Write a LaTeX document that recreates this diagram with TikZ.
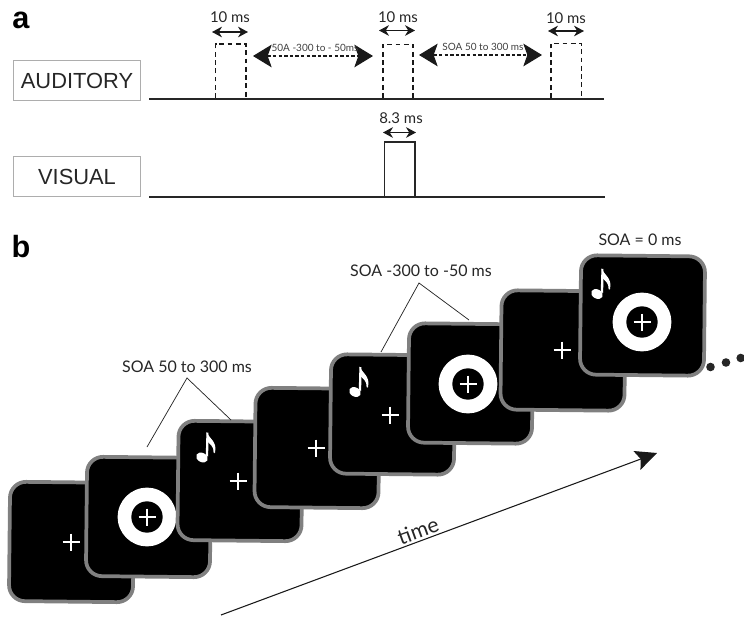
\documentclass[tikz,border=0pt]{standalone}
\usepackage{fontspec}
\setmainfont{Lato}
\newfontfamily\arialf{Liberation Sans}
\usetikzlibrary{arrows.meta}
\definecolor{cardedge}{gray}{0.5}
\definecolor{boxedge}{gray}{0.68}
\definecolor{soft}{gray}{0.25}
\tikzset{
  x=0.75pt,y=-0.75pt,
  panel/.style={font=\arialf\bfseries\fontsize{23}{23}\selectfont,inner sep=0pt,text=black},
  chan/.style={draw=boxedge,line width=0.75pt,minimum width=95.25pt,minimum height=30pt,inner sep=0pt,font=\arialf\fontsize{16.4}{16.4}\selectfont,text=black!85},
  dur/.style={font=\fontsize{11.2}{13}\selectfont,inner sep=0pt,text=black!85},
  soatop/.style={font=\fontsize{12}{14}\selectfont,inner sep=0pt,text=black!85},
  soasmall/.style={font=\fontsize{7.5}{9}\selectfont,inner sep=0pt,text=soft},
  baseline/.style={line width=2pt,draw=black!85},
  pulse/.style={line width=1.1pt,dash pattern=on 3.6pt off 2.6pt,draw=black!90},
  pulsesolid/.style={line width=1.1pt,draw=black!85},
  durarrow/.style={line width=0.9pt,draw=black!90,{Stealth[length=7.5pt,width=8pt]}-{Stealth[length=7.5pt,width=8pt]}},
  soaarrow/.style={line width=0.8pt,dash pattern=on 2.6pt off 1.6pt,draw=black!90,{Stealth[length=14pt,width=17pt,inset=3pt]}-{Stealth[length=14pt,width=17pt,inset=3pt]}},
  card/.style={draw=cardedge,fill=black,line width=2.8pt,rounded corners=12pt,minimum width=93pt,minimum height=89.5pt,inner sep=0pt,rotate=-0.6},
  fix/.style={draw=white,line width=1pt},
  ring/.style={fill=white,circle,minimum size=44pt,inner sep=0pt},
  hole/.style={fill=black,circle,minimum size=23.5pt,inner sep=0pt},
  lead/.style={line width=0.55pt,draw=black!85},
  fixcross/.pic={\draw[fix] (-8.5,0) -- (8.5,0) (0,-8.5) -- (0,8.5);},
  musicnote/.pic={
    \fill[white,rotate=-28] (0,0) ellipse [x radius=6.2,y radius=4.6];
    \fill[white] (3.8,-2) -- (4.4,-25) -- (6.4,-25) -- (6.2,-1) -- cycle;
    \fill[white] (4.6,-25.5) .. controls (7,-19) and (15.5,-16) .. (13,-5)
       .. controls (12.6,-4) and (11.8,-4) .. (11.6,-5)
       .. controls (12,-11) and (8,-13) .. (5.5,-16) -- cycle;
  },
}
\begin{document}
\begin{tikzpicture}
\useasboundingbox (0,0) rectangle (744,617);
% panel a
\node[panel] (pa) at (21,20) {a};
\node[chan] (aud) at (77,80.5) {AUDITORY};
\node[chan] (vis) at (77,177) {VISUAL};
\coordinate (al) at (149,99); \coordinate (ar) at (604,99);
\coordinate (vl) at (149,197); \coordinate (vr) at (605,197);
\draw[baseline] (al) -- (ar);
\draw[baseline] (vl) -- (vr);
\draw[pulse] (215.5,98) -- (215.5,44) -- (246,44) -- (246,98);
\draw[pulse] (383,98) -- (383,44.5) -- (413,44.5) -- (413,98);
\draw[pulse] (551,98) -- (551,43.5) -- (581.5,43.5) -- (581.5,98);
\draw[pulsesolid] (384.5,196) -- (384.5,142) -- (415,142) -- (415,196);
\node[dur] (d1) at (230,17) {10 ms};
\node[dur] (d2) at (398,17) {10 ms};
\node[dur] (d3) at (566,18) {10 ms};
\node[dur] (d4) at (401,118) {8.3 ms};
\coordinate (a1l) at (212,32); \coordinate (a1r) at (248,32);
\coordinate (a2l) at (379,30.5); \coordinate (a2r) at (415,30.5);
\coordinate (a3l) at (548,31); \coordinate (a3r) at (584,31);
\coordinate (a4l) at (383,132.5); \coordinate (a4r) at (416,132.5);
\draw[durarrow] (a1l) -- (a1r);
\draw[durarrow] (a2l) -- (a2r);
\draw[durarrow] (a3l) -- (a3r);
\draw[durarrow] (a4l) -- (a4r);
\coordinate (s1l) at (253,56); \coordinate (s1r) at (373,56);
\coordinate (s2l) at (419,55); \coordinate (s2r) at (542,55);
\draw[soaarrow] (s1l) -- (s1r);
\draw[soaarrow] (s2l) -- (s2r);
\node[soasmall] (sl1) at (315,48) {50A -300 to - 50ms};
\node[soasmall] (sl2) at (483,47) {SOA 50 to 300 ms};
% panel b: each card with its stimuli, later cards on top
\node[panel] (pb) at (21,247) {b};
\node[card] (c1) at (71.5,542) {};
\pic at (71,542) {fixcross};
\node[card] (c2) at (148.5,517) {};
\node[ring] (r2) at (147,517) {};
\node[hole] (h2) at (147,517) {};
\pic at (147,517) {fixcross};
\node[card] (c3) at (240,481) {};
\pic at (202,457.5) {musicnote};
\pic at (238,481) {fixcross};
\node[card] (c4) at (317,448) {};
\pic at (316,448) {fixcross};
\node[card] (c5) at (392.5,414.5) {};
\pic at (355,392) {musicnote};
\pic at (390,415) {fixcross};
\node[card] (c6) at (470.5,383.5) {};
\node[ring] (r6) at (468,384) {};
\node[hole] (h6) at (468,384) {};
\pic at (468,384) {fixcross};
\node[card] (c7) at (563,350.5) {};
\pic at (562,350) {fixcross};
\node[card] (c8) at (642.5,315.5) {};
\pic at (597,294) {musicnote};
\node[ring] (r8) at (642,322) {};
\node[hole] (h8) at (642,322) {};
\pic at (642,322) {fixcross};
% labels and leaders
\node[soatop] (t1) at (187,367) {SOA 50 to 300 ms};
\node[soatop] (t2) at (421,271) {SOA -300 to -50 ms};
\node[soatop] (t3) at (640,240) {SOA = 0 ms};
\coordinate (ap1) at (187,378); \coordinate (e1a) at (147,447); \coordinate (e1b) at (231,420);
\coordinate (ap2) at (419,283); \coordinate (e2a) at (381,352); \coordinate (e2b) at (469,320);
\draw[lead] (e1a) -- (ap1) -- (e1b);
\draw[lead] (e2a) -- (ap2) -- (e2b);
\fill[black!85] (710.5,367) circle [radius=4.3] (726,362.5) circle [radius=4.3] (740.7,358) circle [radius=4.3];
% time arrow
\coordinate (tl) at (221,615); \coordinate (tr) at (657,453);
\draw[line width=0.8pt,draw=black!90,-{Stealth[length=16pt,width=15pt,inset=3pt]}] (tl) -- (tr);
\node[font=\fontsize{16}{18}\selectfont,rotate=20,inner sep=0pt,text=black!85] (time) at (418,531) {time};
\end{tikzpicture}
\end{document}
